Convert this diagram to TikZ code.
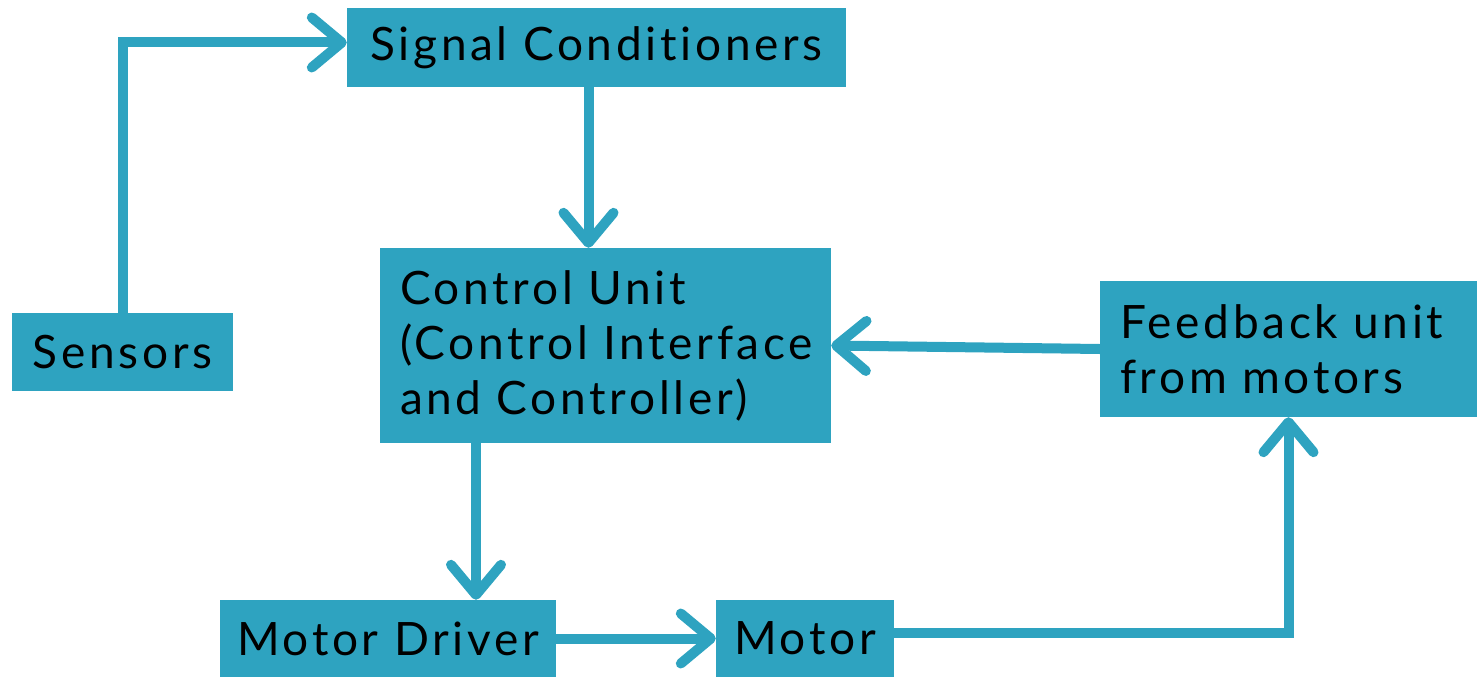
\documentclass[tikz,border=0pt]{standalone}
\usepackage{fontspec}
\setmainfont[LetterSpace=8, Ligatures=NoCommon]{Lato}
\usetikzlibrary{positioning, arrows.meta}
\usetikzlibrary{calc}
\definecolor{boxblue}{HTML}{2EA3C0}
\tikzset{
x=1pt, y=-1pt, % one unit is one point, y grows downwards
block/.style={fill=boxblue, inner sep=0pt, font=\fontsize{46}{55}\selectfont}, % sets the look of each block
link/.style={draw=boxblue, line width=10pt, -{Straight Barb[length=30pt, width=50pt, line cap=round, line join=round]}}, % sets the connectors
}

\begin{document}
\begin{tikzpicture}
    \useasboundingbox (0,0) rectangle (1477,677);
    \node[block, minimum width=499pt, minimum height=79pt] (sig) at (596.5,47.5) {\raisebox{2pt}{Signal Conditioners}};
    \node[block, minimum width=221pt, minimum height=78pt] (sens) at (122.5,352) {Sensors};
    \node[block, minimum width=451pt, minimum height=195pt, text width=411pt, align=left] (ctrl) at (605.5,345.5)
      {Control Unit\\(Control Interface\\and Controller)};
    \node[block, minimum width=377pt, minimum height=136pt, text width=337pt, align=left] (fb) at (1288.5,349)
      {Feedback unit\\from motors};
    \node[block, minimum width=336pt, minimum height=77pt] (drv) at (388,638.5) {Motor Driver};
    \node[block, minimum width=178pt, minimum height=77pt] (mot) at (805,638.5) {Motor};
    \draw[link, line join=miter] (sens.north) |- ([yshift=5pt]sig.west);
    \draw[link] ([xshift=-8pt]sig.south) -- ([xshift=-8pt]sig.south |- ctrl.north);
    \draw[link] (fb.west) -- (ctrl.east);
    \draw[link] (ctrl.south -| 476,0) -- (drv.north -| 476,0);
    \draw[link] (drv.east) -- (mot.west);
    \draw[link, line join=miter] ([yshift=6pt]mot.east) -| (fb.south);
  \end{tikzpicture}
\end{document}
